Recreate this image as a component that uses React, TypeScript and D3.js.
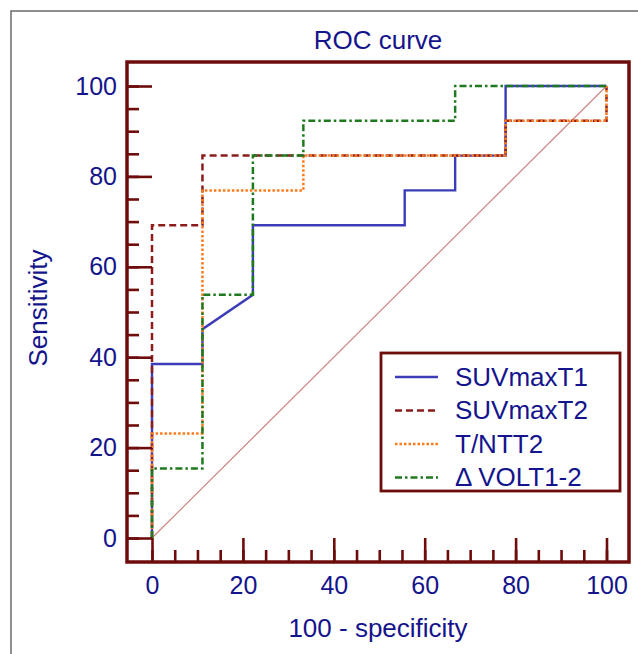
import React, { useEffect, useRef } from "react";
import * as d3 from "d3";

// ROC data (100 - specificity, sensitivity)
const seriesNames = ["SUVmaxT1", "SUVmaxT2", "T/NTT2", "Δ VOLT1-2"];

const suv1X = [0, 0, 11.1, 11.1, 22.2, 22.2, 55.6, 55.6, 66.7, 66.7, 77.8, 77.8, 100];
const suv1Y = [0, 38.5, 38.5, 46.2, 53.8, 69.2, 69.2, 76.9, 76.9, 84.6, 84.6, 100, 100];

const suv2X = [0, 0, 11.1, 11.1, 77.8, 77.8, 100, 100];
const suv2Y = [0, 69.2, 69.2, 84.6, 84.6, 92.3, 92.3, 100];

const tntX = [0, 0, 11.1, 11.1, 33.3, 33.3, 77.8, 77.8, 100, 100];
const tntY = [0, 23.1, 23.1, 76.9, 76.9, 84.6, 84.6, 92.3, 92.3, 100];

const volX = [0, 0, 11.1, 11.1, 22.2, 22.2, 33.3, 33.3, 66.7, 66.7, 100];
const volY = [0, 15.4, 15.4, 53.8, 53.8, 84.6, 84.6, 92.3, 92.3, 100, 100];

const majorTicks = [0, 20, 40, 60, 80, 100];
const minorTicks = d3.range(0, 101, 5);

const App = () => {
  const ref = useRef<SVGSVGElement>(null);

  useEffect(() => {
    const svg = d3.select(ref.current);
    svg.selectAll("*").remove();

    const W = 638;
    const H = 654;
    const frame = { left: 127, right: 629, top: 62, bottom: 562 };
    const maroon = "#6e0c0c";
    const navy = "#14148c";
    const font = "'Liberation Sans', Arial, sans-serif";

    const x = d3.scaleLinear().domain([0, 100]).range([152, 606.5]);
    const y = d3.scaleLinear().domain([0, 100]).range([538, 86]);

    // outer grey border (runs off the right/bottom edge)
    svg
      .append("rect")
      .attr("x", 11)
      .attr("y", 11)
      .attr("width", W)
      .attr("height", H)
      .attr("fill", "none")
      .attr("stroke", "#6a6a6a")
      .attr("stroke-width", 1.5);

    // title
    svg
      .append("text")
      .attr("x", (frame.left + frame.right) / 2)
      .attr("y", 49)
      .attr("text-anchor", "middle")
      .attr("font-family", font)
      .attr("font-size", 26)
      .attr("fill", navy)
      .text("ROC curve");

    // diagonal reference
    svg
      .append("line")
      .attr("x1", x(0))
      .attr("y1", y(0))
      .attr("x2", x(100))
      .attr("y2", y(100))
      .attr("stroke", "#d08585")
      .attr("stroke-width", 1.2);

    // curves
    const styles = [
      { color: "#3c3cb8", dash: null, width: 2.4 },
      { color: "#8b1c1c", dash: "7,4", width: 2.5 },
      { color: "#ff7a1a", dash: "2.5,2", width: 2.5 },
      { color: "#1f7a1f", dash: "7,3,2.5,3", width: 2.5 },
    ];
    const xs = [suv1X, suv2X, tntX, volX];
    const ys = [suv1Y, suv2Y, tntY, volY];

    const line = d3
      .line<[number, number]>()
      .x((d) => x(d[0]))
      .y((d) => y(d[1]));

    xs.forEach((xv, i) => {
      const pts = xv.map((v, j) => [v, ys[i][j]] as [number, number]);
      svg
        .append("path")
        .attr("d", line(pts))
        .attr("fill", "none")
        .attr("stroke", styles[i].color)
        .attr("stroke-width", styles[i].width)
        .attr("stroke-dasharray", styles[i].dash);
    });

    // axes: ticks point inward from the frame
    const minorLen = 12;
    const majorLen = x(0) - frame.left;

    const xMinor = svg
      .append("g")
      .attr("transform", `translate(0,${frame.bottom})`)
      .call(d3.axisBottom(x).tickValues(minorTicks).tickSize(-minorLen).tickFormat(() => ""));
    const xMajor = svg
      .append("g")
      .attr("transform", `translate(0,${frame.bottom})`)
      .call(d3.axisBottom(x).tickValues(majorTicks).tickSize(-(frame.bottom - y(0))).tickPadding(14));
    const yMinor = svg
      .append("g")
      .attr("transform", `translate(${frame.left},0)`)
      .call(d3.axisLeft(y).tickValues(minorTicks).tickSize(-minorLen).tickFormat(() => ""));
    const yMajor = svg
      .append("g")
      .attr("transform", `translate(${frame.left},0)`)
      .call(d3.axisLeft(y).tickValues(majorTicks).tickSize(-majorLen).tickPadding(10));

    [xMinor, xMajor, yMinor, yMajor].forEach((g) => {
      g.select(".domain").remove();
      g.selectAll("line").attr("stroke", maroon).attr("stroke-width", 2.6);
      g.selectAll("text")
        .attr("fill", navy)
        .attr("font-family", font)
        .attr("font-size", 25);
    });

    // frame
    svg
      .append("rect")
      .attr("x", frame.left)
      .attr("y", frame.top)
      .attr("width", frame.right - frame.left)
      .attr("height", frame.bottom - frame.top)
      .attr("fill", "none")
      .attr("stroke", maroon)
      .attr("stroke-width", 3.5);

    // axis titles
    svg
      .append("text")
      .attr("x", (frame.left + frame.right) / 2)
      .attr("y", 637)
      .attr("text-anchor", "middle")
      .attr("font-family", font)
      .attr("font-size", 26)
      .attr("fill", navy)
      .text("100 - specificity");

    svg
      .append("text")
      .attr("transform", `translate(47,${(frame.top + frame.bottom) / 2 - 4}) rotate(-90)`)
      .attr("text-anchor", "middle")
      .attr("font-family", font)
      .attr("font-size", 26)
      .attr("fill", navy)
      .text("Sensitivity");

    // legend
    const lg = svg.append("g").attr("transform", "translate(381,353)");
    lg.append("rect")
      .attr("width", 239)
      .attr("height", 138)
      .attr("fill", "white")
      .attr("stroke", maroon)
      .attr("stroke-width", 2.8);

    seriesNames.forEach((name, i) => {
      const cy = 24 + i * 33.5;
      lg.append("line")
        .attr("x1", 14)
        .attr("x2", 57)
        .attr("y1", cy)
        .attr("y2", cy)
        .attr("stroke", styles[i].color)
        .attr("stroke-width", styles[i].width)
        .attr("stroke-dasharray", styles[i].dash);
      lg.append("text")
        .attr("x", 74)
        .attr("y", cy + 8.5)
        .attr("font-family", font)
        .attr("font-size", 26)
        .attr("fill", navy)
        .text(name);
    });
  }, []);

  return (
    <svg
      ref={ref}
      width={638}
      height={654}
      style={{ position: "absolute", left: 0, top: 0, background: "white" }}
    />
  );
};

export default App;
